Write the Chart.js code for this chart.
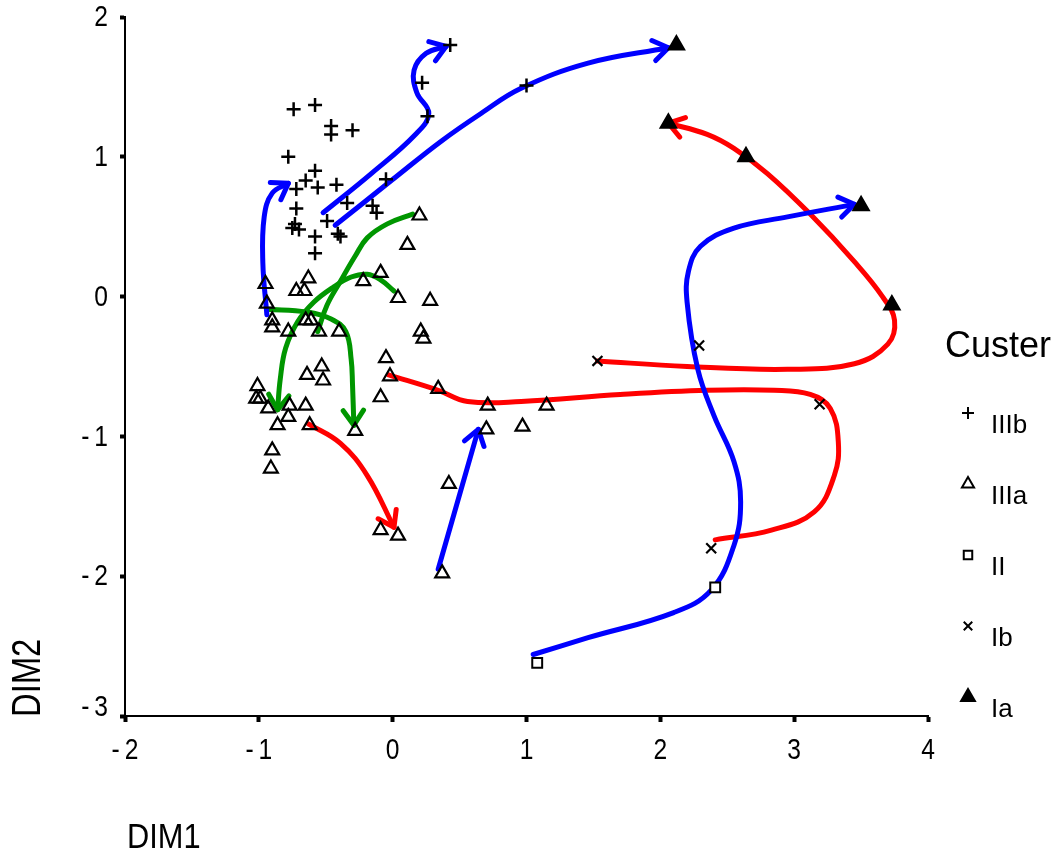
<!DOCTYPE html>
<html>
<head>
<meta charset="utf-8">
<script src="https://cdn.jsdelivr.net/npm/chart.js@4.4.0/dist/chart.umd.min.js"></script>
<style>
  html, body { margin:0; padding:0; background:#fff; }
</style>
</head>
<body>
<canvas id="c" width="1059" height="854"></canvas>
<script>
// ---- data: cluster points (DIM1, DIM2) ----
var IIIb = [[0.43,1.80],[0.22,1.53],[0.26,1.29],[1.00,1.51],[-0.74,1.34],[-0.58,1.37],[-0.46,1.22],
  [-0.46,1.16],[-0.30,1.19],[-0.78,1.00],[-0.58,0.90],[-0.65,0.83],[-0.56,0.78],[-0.72,0.77],
  [-0.42,0.80],[-0.05,0.84],[-0.72,0.63],[-0.34,0.67],[-0.15,0.65],[-0.12,0.60],[-0.73,0.52],
  [-0.75,0.49],[-0.70,0.48],[-0.58,0.43],[-0.58,0.31],[-0.49,0.54],[-0.41,0.45],[-0.39,0.43]];
var IIIa = [[-0.95,0.09],[-0.72,0.04],[-0.66,0.04],[-0.63,0.13],[-0.09,0.17],[-0.22,0.11],[0.04,-0.01],
  [0.28,-0.03],[-0.94,-0.05],[-0.90,-0.17],[-0.90,-0.22],[-0.78,-0.25],[-0.65,-0.17],[-0.61,-0.17],
  [-0.55,-0.25],[-0.40,-0.25],[0.21,-0.25],[0.23,-0.30],[-0.05,-0.44],[-0.53,-0.50],[-0.64,-0.56],
  [-0.52,-0.60],[-0.02,-0.57],[-1.01,-0.64],[-1.02,-0.73],[-0.99,-0.73],[-0.93,-0.80],[-0.77,-0.78],
  [-0.65,-0.78],[-0.78,-0.86],[-0.86,-0.92],[-0.62,-0.92],[-0.28,-0.96],[-0.09,-0.72],[0.34,-0.66],
  [-0.90,-1.10],[-0.91,-1.23],[0.71,-0.78],[1.15,-0.78],[0.70,-0.95],[0.97,-0.93],[0.42,-1.34],
  [-0.09,-1.67],[0.04,-1.71],[0.37,-1.98],[0.20,0.58],[0.11,0.37]];
var II = [[1.08,-2.62],[2.41,-2.08]];
var Ib = [[1.53,-0.46],[2.29,-0.35],[3.19,-0.77],[2.38,-1.80]];
var Ia = [[2.12,1.80],[2.06,1.24],[2.64,1.00],[3.50,0.65],[3.73,-0.06]];

// ---- data: trajectory curves ----
var blue1 = [[-0.94,-0.13],[-0.97,0.24],[-0.96,0.57],[-0.90,0.74],[-0.78,0.81]];
var blue2 = [[-0.52,0.60],[-0.16,0.88],[0.17,1.16],[0.27,1.31],[0.18,1.46],[0.16,1.62],[0.25,1.74],[0.40,1.79]];
var blue3 = [[-0.43,0.51],[-0.01,0.83],[0.36,1.11],[0.66,1.31],[0.96,1.49],[1.46,1.67],[2.06,1.78]];
var blue4 = [[1.05,-2.56],[1.46,-2.44],[2.10,-2.26],[2.38,-2.10],[2.55,-1.78],[2.60,-1.47],[2.55,-1.18],
  [2.40,-0.85],[2.28,-0.52],[2.20,-0.04],[2.21,0.18],[2.30,0.36],[2.55,0.49],[2.95,0.57],[3.45,0.66]];
var blue5 = [[0.34,-1.95],[0.64,-0.95]];
var red1 = [[1.53,-0.46],[2.20,-0.50],[2.95,-0.52],[3.45,-0.48],[3.70,-0.34],[3.75,-0.17],[3.66,0.00],
  [3.45,0.25],[3.12,0.59],[2.80,0.88],[2.55,1.06],[2.35,1.16],[2.06,1.24]];
var red2 = [[2.41,-1.74],[2.83,-1.67],[3.15,-1.54],[3.30,-1.28],[3.33,-1.04],[3.27,-0.80],[3.12,-0.70],
  [2.85,-0.67],[2.35,-0.67],[1.70,-0.70],[0.96,-0.75],[0.56,-0.75],[0.34,-0.67],[-0.03,-0.56]];
var red3 = [[-0.63,-0.91],[-0.39,-1.05],[-0.19,-1.28],[0.01,-1.65]];
var green1 = [[-0.94,-0.09],[-0.64,-0.11],[-0.46,-0.16],[-0.35,-0.25],[-0.31,-0.45],[-0.30,-0.63],[-0.29,-0.92]];
var green2 = [[0.01,0.04],[-0.09,0.12],[-0.19,0.16],[-0.31,0.14],[-0.44,0.07],[-0.59,-0.04],[-0.71,-0.18],
  [-0.80,-0.37],[-0.84,-0.59],[-0.86,-0.81]];
var green3 = [[-0.56,-0.25],[-0.49,-0.06],[-0.39,0.11],[-0.28,0.29],[-0.19,0.42],[-0.04,0.52],[0.15,0.59]];

var xTicks = [-2,-1,0,1,2,3,4];
var yTicks = [-3,-2,-1,0,1,2];
var xTitle = 'DIM1', yTitle = 'DIM2';
var legendTitle = 'Custer';
var legendNames = ['IIIb','IIIa','II','Ib','Ia'];

var BLUE = '#0000ff', RED = '#ff0000', GREEN = '#009600';
var SANS = "'Liberation Sans',Arial,sans-serif";

function pts(a) { return a.map(function(p) { return {x:p[0], y:p[1]}; }); }

function curve(data, color, arrow) {
  return { type:'scatter', data:pts(data), showLine:true, borderColor:color, borderWidth:5,
    pointRadius:0, tension:0.4, borderCapStyle:'round', borderJoinStyle:'round', fill:false,
    order:2, arrow:arrow };
}
function marks(data, style, r, fill, bw) {
  return { type:'scatter', data:pts(data), pointStyle:style, pointRadius:r, pointBorderWidth:bw || 2,
    pointBorderColor:'#000', pointBackgroundColor:fill, order:1 };
}

var datasets = [
  marks(IIIb, 'cross', 7, 'rgba(0,0,0,0)', 2.5),
  marks(IIIa, 'triangle', 8, 'rgba(0,0,0,0)', 2.2),
  marks(II, 'rect', 7, '#fff', 2),
  marks(Ib, 'crossRot', 7, 'rgba(0,0,0,0)', 2.2),
  marks(Ia, 'triangle', 9, '#000', 2),
  curve(blue1, BLUE, true), curve(blue2, BLUE, true), curve(blue3, BLUE, true),
  curve(blue4, BLUE, true), curve(blue5, BLUE, true),
  curve(red1, RED, true), curve(red2, RED, false), curve(red3, RED, true),
  curve(green1, GREEN, true), curve(green2, GREEN, true), curve(green3, GREEN, false)
];
datasets[9].tension = 0; // straight arrow

// condensed-looking text (no narrow font installed)
function narrowText(ctx, text, x, y, size, sx, align, rot) {
  ctx.save();
  ctx.translate(x, y);
  if (rot) ctx.rotate(rot);
  ctx.scale(sx, 1);
  ctx.font = size + 'px ' + SANS;
  ctx.textAlign = align;
  ctx.textBaseline = 'middle';
  ctx.fillStyle = '#000';
  ctx.fillText(text, 0, 0);
  ctx.restore();
}
function fmt(v) { return v < 0 ? '-\u2009' + Math.abs(v) : String(v); }

// arrowhead at the end of each curve, direction from the last segment
var arrowPlugin = {
  id: 'arrows',
  afterDatasetDraw: function(chart, args) {
    var ds = chart.data.datasets[args.index];
    if (!ds.arrow) return;
    var xs = chart.scales.x, ys = chart.scales.y, n = ds.data.length;
    var tx = xs.getPixelForValue(ds.data[n-1].x), ty = ys.getPixelForValue(ds.data[n-1].y);
    var px = xs.getPixelForValue(ds.data[n-2].x), py = ys.getPixelForValue(ds.data[n-2].y);
    var ang = Math.atan2(ty - py, tx - px), len = 18, spread = 0.6;
    var ctx = chart.ctx;
    ctx.save();
    ctx.strokeStyle = ds.borderColor; ctx.lineWidth = 5;
    ctx.lineCap = 'round'; ctx.lineJoin = 'round';
    ctx.beginPath();
    ctx.moveTo(tx - len*Math.cos(ang - spread), ty - len*Math.sin(ang - spread));
    ctx.lineTo(tx, ty);
    ctx.lineTo(tx - len*Math.cos(ang + spread), ty - len*Math.sin(ang + spread));
    ctx.stroke();
    ctx.restore();
  }
};

// tick labels, axis titles and the legend
var textPlugin = {
  id: 'texts',
  afterDraw: function(chart) {
    var ctx = chart.ctx, xs = chart.scales.x, ys = chart.scales.y, a = chart.chartArea;
    xTicks.forEach(function(v) { narrowText(ctx, fmt(v), xs.getPixelForValue(v), 751, 30, 0.82, 'center'); });
    yTicks.forEach(function(v) {
      var y = ys.getPixelForValue(v);
      if (v === yTicks[0]) y -= 9;
      narrowText(ctx, fmt(v), 108, y + 1, 30, 0.82, 'right');
    });
    narrowText(ctx, xTitle, a.left + 2, 838, 35, 0.88, 'left');
    narrowText(ctx, yTitle, 29, a.bottom + 1, 40, 0.82, 'left', -Math.PI / 2);

    ctx.save();
    ctx.fillStyle = '#000';
    ctx.textBaseline = 'middle'; ctx.textAlign = 'left';
    ctx.font = '36px ' + SANS;
    ctx.fillText(legendTitle, 945, 347);
    ctx.font = '26px ' + SANS;
    for (var i = 0; i < legendNames.length; i++) {
      var ds = chart.data.datasets[i];
      var y = 426 + i * 71;
      ctx.fillStyle = '#000';
      ctx.fillText(legendNames[i], 991, y);
      ctx.strokeStyle = '#000';
      ctx.fillStyle = ds.pointBackgroundColor;
      ctx.lineWidth = 2;
      Chart.helpers.drawPoint(ctx, { pointStyle: ds.pointStyle, radius: ds.pointRadius - 1,
        rotation: 0, borderWidth: 2 }, 968, y - 13);
    }
    ctx.restore();
  }
};

new Chart(document.getElementById('c'), {
  type: 'scatter',
  data: { datasets: datasets },
  plugins: [arrowPlugin, textPlugin],
  options: {
    responsive: false,
    animation: false,
    events: [],
    layout: { padding: { top: 17, right: 131, left: 0, bottom: 0 } },
    plugins: { legend: { display: false }, tooltip: { enabled: false } },
    scales: {
      x: {
        type: 'linear', min: -2, max: 4,
        afterBuildTicks: function(s) { s.ticks = xTicks.map(function(v) { return {value:v}; }); },
        afterFit: function(s) { s.height = 138; },
        border: { display: true, color: '#000', width: 2 },
        grid: { drawOnChartArea: false, drawTicks: true, tickLength: 6, tickWidth: 4, tickColor: '#000' },
        ticks: { display: false }
      },
      y: {
        type: 'linear', min: -3, max: 2,
        afterBuildTicks: function(s) { s.ticks = yTicks.map(function(v) { return {value:v}; }); },
        afterFit: function(s) { s.width = 125; },
        border: { display: true, color: '#000', width: 2 },
        grid: { drawOnChartArea: false, drawTicks: true, tickLength: 5, tickWidth: 4, tickColor: '#000' },
        ticks: { display: false }
      }
    }
  }
});
</script>
</body>
</html>
